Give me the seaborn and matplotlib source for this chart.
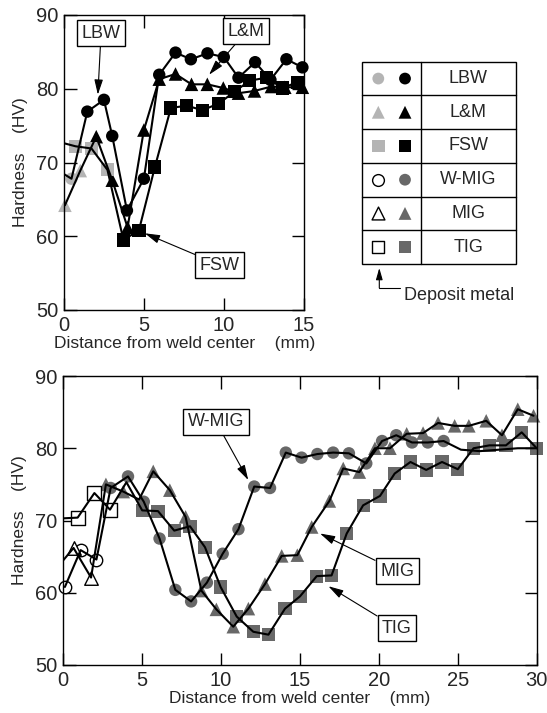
import numpy as np
import pandas as pd
import matplotlib
matplotlib.use("Agg")
import matplotlib.pyplot as plt
import seaborn as sns
from matplotlib.patches import Rectangle
from matplotlib.lines import Line2D

# ---------------- data: upper chart (distance mm, hardness HV, point kind) ----------------
lbw_x = [0.0, 0.45, 1.44, 2.48, 3.0, 3.92, 4.98, 5.94, 6.96, 7.92, 8.96, 9.98, 10.9, 11.94, 12.9, 13.9, 14.9]
lbw_v = [68.4, 67.8, 76.9, 78.5, 73.6, 63.5, 67.8, 81.9, 84.9, 84.0, 84.8, 84.3, 81.5, 83.6, 81.2, 84.0, 82.9]
lbw_k = ["none", "dep"] + ["haz"] * 15

lm_x = [0.04, 1.0, 2.0, 3.0, 3.96, 4.98, 5.94, 6.96, 7.96, 8.95, 9.95, 10.9, 11.9, 12.96, 13.8, 14.9]
lm_v = [64.2, 68.9, 73.5, 67.6, 61.2, 74.4, 81.3, 82.0, 80.6, 80.6, 80.1, 79.4, 79.7, 80.3, 80.2, 80.2]
lm_k = ["dep", "dep"] + ["haz"] * 14

fsw_x = [0.0, 0.7, 1.7, 2.7, 3.7, 4.67, 5.67, 6.67, 7.65, 8.65, 9.67, 10.65, 11.6, 12.65, 13.65, 14.6]
fsw_v = [72.6, 72.2, 71.9, 69.0, 59.5, 60.8, 69.4, 77.4, 77.7, 77.1, 78.0, 79.6, 81.1, 81.5, 80.1, 80.9]
fsw_k = ["none", "dep", "dep", "dep"] + ["haz"] * 12

# ---------------- data: lower chart ----------------
wmig_x = [0.1, 1.1, 2.1, 3.0, 4.1, 5.1, 6.1, 7.1, 8.1, 9.1, 10.1, 11.1, 12.1, 13.1, 14.1, 15.1, 16.1,
          17.1, 18.1, 19.2, 20.2, 21.1, 22.1, 23.1, 24.1, 25.2, 26.4, 27.6, 28.8, 30.0]
wmig_v = [60.8, 65.9, 64.6, 74.5, 76.1, 72.6, 67.5, 60.4, 58.8, 61.4, 65.4, 68.8, 74.7, 74.5, 79.4, 78.7, 79.2,
          79.4, 79.3, 77.9, 81.0, 81.8, 80.8, 80.8, 81.0, 79.8, 79.6, 79.8, 80.0, 80.0]
wmig_k = ["dep"] * 3 + ["haz"] * 22 + ["none"] * 5

mig_x = [0.0, 0.65, 1.76, 2.7, 3.8, 4.8, 5.7, 6.75, 7.75, 8.75, 9.7, 10.77, 11.73, 12.78, 13.84, 14.83, 15.74,
         16.86, 17.74, 18.76, 19.75, 20.7, 21.76, 22.8, 23.75, 24.8, 25.7, 26.8, 27.8, 28.8, 29.8]
mig_v = [64.5, 66.2, 62.1, 75.0, 74.0, 72.9, 76.8, 74.2, 70.5, 60.3, 57.7, 55.3, 57.8, 61.2, 65.1, 65.2, 69.1,
         72.7, 77.2, 76.7, 80.0, 80.0, 82.0, 82.1, 83.5, 83.1, 83.1, 83.8, 81.8, 85.4, 84.5]
mig_k = ["none", "dep", "dep", "haz", "haz", "none"] + ["haz"] * 25

tig_x = [0.0, 0.91, 1.97, 2.96, 4.0, 5.0, 6.0, 7.03, 8.03, 8.98, 9.97, 10.99, 12.04, 13.0, 14.05, 15.0, 16.06,
         17.0, 17.96, 19.0, 20.07, 21.0, 22.0, 23.0, 24.0, 25.0, 26.0, 27.0, 28.05, 29.05, 30.0]
tig_v = [70.3, 70.4, 73.8, 71.5, 75.3, 71.4, 71.3, 68.6, 69.2, 66.3, 60.8, 56.7, 54.6, 54.2, 57.8, 59.5, 62.3,
         62.4, 68.2, 72.1, 73.4, 76.5, 78.1, 77.0, 78.1, 77.1, 80.0, 80.4, 80.4, 82.2, 80.0]
tig_k = ["none", "dep", "dep", "dep", "none"] + ["haz"] * 26

legend_names = ["LBW", "L&M", "FSW", "W-MIG", "MIG", "TIG"]
legend_markers = ["o", "^", "s", "o", "^", "s"]

# ---------------- style ----------------
sns.set_style("ticks")
plt.rcParams["font.family"] = ["Liberation Sans", "DejaVu Sans"]
plt.rcParams["axes.linewidth"] = 1.0

LIGHT = "#b4b4b4"
DARK = "#686868"
SIZES = {"o": 80, "^": 95, "s": 90}

W, H = 547, 713
fig = plt.figure(figsize=(W / 100, H / 100), dpi=100)
ax1 = fig.add_axes([64.3 / W, 1 - 310 / H, 239.7 / W, 295 / H])
ax2 = fig.add_axes([63.3 / W, 1 - 665 / H, 473.4 / W, 289 / H])


def dep_style(open_dep):
    if open_dep:
        return dict(color="white", edgecolor="black", linewidth=1.0)
    return dict(color=LIGHT, edgecolor="none", linewidth=0)


def draw(ax, xs, vs, kinds, marker, haz_color, open_dep):
    df = pd.DataFrame({"x": xs, "v": vs, "kind": kinds})
    for kind, sub in df.groupby("kind"):
        if kind == "none":
            continue
        st = dep_style(open_dep) if kind == "dep" else dict(color=haz_color, edgecolor="none", linewidth=0)
        sns.scatterplot(data=sub, x="x", y="v", marker=marker, s=SIZES[marker], ax=ax,
                        legend=False, clip_on=False, zorder=2, **st)
    sns.lineplot(data=df, x="x", y="v", sort=False, estimator=None, color="black",
                 lw=1.5, ax=ax, zorder=3, legend=False)


draw(ax1, lbw_x, lbw_v, lbw_k, "o", "black", False)
draw(ax1, lm_x, lm_v, lm_k, "^", "black", False)
draw(ax1, fsw_x, fsw_v, fsw_k, "s", "black", False)

draw(ax2, wmig_x, wmig_v, wmig_k, "o", DARK, True)
draw(ax2, mig_x, mig_v, mig_k, "^", DARK, True)
draw(ax2, tig_x, tig_v, tig_k, "s", DARK, True)

for ax, xmax, xt in [(ax1, 15, [0, 5, 10, 15]), (ax2, 30, [0, 5, 10, 15, 20, 25, 30])]:
    ax.set_xlim(0, xmax)
    ax.set_ylim(50, 90)
    ax.set_xticks(xt)
    ax.set_yticks([50, 60, 70, 80, 90])
    ax.tick_params(direction="in", length=9, width=1, top=True, right=True,
                   labelsize=14.5, pad=4, color="black")
    ax.set_xlabel("Distance from weld center    (mm)", fontsize=12.5, labelpad=1)
    ax.set_ylabel("Hardness    (HV)", fontsize=12.5, labelpad=6)
    for sp in ax.spines.values():
        sp.set_visible(True)
        sp.set_color("black")

box = dict(boxstyle="square,pad=0.25", fc="white", ec="black", lw=1.0)
arr = dict(arrowstyle="-|>,head_length=0.7,head_width=0.2", lw=0.8, color="black",
           shrinkA=0, shrinkB=0)


def note(ax, text, xt, yt, xa, ya):
    ax.annotate(text, xy=(xa, ya), xytext=(xt, yt), fontsize=13, ha="center", va="center",
                bbox=box, arrowprops=arr, zorder=5)


note(ax1, "LBW", 2.3, 87.5, 2.1, 79.2)
note(ax1, "L&M", 11.4, 87.8, 9.06, 81.9)
note(ax1, "FSW", 9.73, 56.1, 5.04, 60.4)
note(ax2, "W-MIG", 9.67, 83.7, 11.72, 75.6)
note(ax2, "MIG", 21.15, 63.0, 16.27, 68.2)
note(ax2, "TIG", 21.15, 55.1, 16.8, 60.9)

# ---------------- legend table (pixel overlay) ----------------
ov = fig.add_axes([0, 0, 1, 1])
ov.set_xlim(0, W)
ov.set_ylim(H, 0)
ov.axis("off")
ov.patch.set_alpha(0)

tx0, tx1, ty0, ty1, tdiv = 361.7, 516.0, 61.7, 264.0, 421.0
rh = (ty1 - ty0) / len(legend_names)
ov.add_patch(Rectangle((tx0, ty0), tx1 - tx0, ty1 - ty0, fill=False, ec="black", lw=1.0))
ov.add_line(Line2D([tdiv, tdiv], [ty0, ty1], color="black", lw=1.0))
for i in range(1, len(legend_names)):
    ov.add_line(Line2D([tx0, tx1], [ty0 + i * rh] * 2, color="black", lw=1.0))
for i, (name, mk) in enumerate(zip(legend_names, legend_markers)):
    yc = ty0 + (i + 0.5) * rh
    if i < 3:
        ov.scatter([378.3], [yc], marker=mk, s=SIZES[mk] * 0.9, color=LIGHT, edgecolor="none")
        ov.scatter([405.0], [yc], marker=mk, s=SIZES[mk] * 0.9, color="black", edgecolor="none")
    else:
        ov.scatter([378.3], [yc], marker=mk, s=SIZES[mk] * 0.9, color="white", edgecolor="black", linewidth=1.0)
        ov.scatter([405.0], [yc], marker=mk, s=SIZES[mk] * 0.9, color=DARK, edgecolor="none")
    ov.text(468.3, yc, name, fontsize=13, ha="center", va="center")

ov.annotate("", xy=(379.3, 268), xytext=(379.3, 288),
            arrowprops=dict(arrowstyle="-|>,head_length=0.7,head_width=0.2", lw=0.8, color="black",
                            shrinkA=0, shrinkB=0))
ov.add_line(Line2D([379.3, 400], [288, 288], color="black", lw=0.8))
ov.text(404, 300, "Deposit metal", fontsize=13, ha="left", va="baseline")

fig.savefig("out.png", dpi=100)
